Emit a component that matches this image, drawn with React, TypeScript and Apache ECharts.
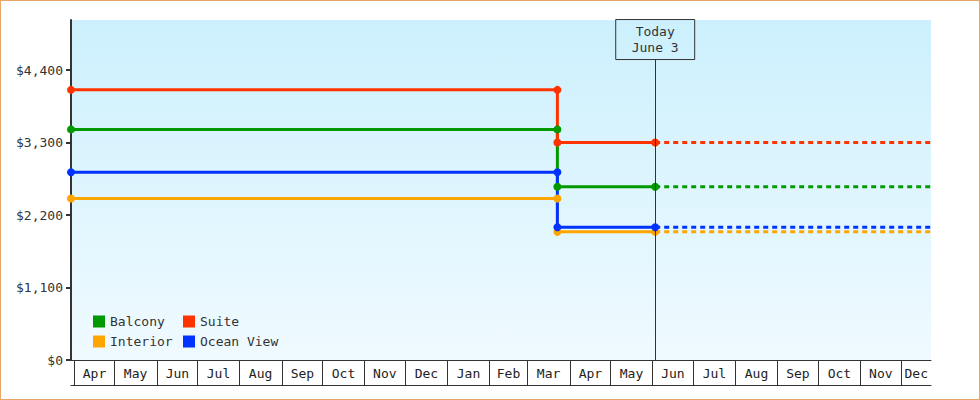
import { useEffect, useRef } from 'react';
import * as echarts from 'echarts';

// Fare history per cabin type
const cabinNames = ['Balcony', 'Suite', 'Interior', 'Ocean View'];
const cabinColors = ['#009900', '#ff3300', '#ffa500', '#0033ff'];
const priorFares = [3500, 4100, 2450, 2850];
const currentFares = [2630, 3300, 1945, 2015];

const startDate = '2024-03-30';
const dropDate = '2025-03-23';
const todayDate = '2025-06-03';
const endDate = '2025-12-23';
const todayLabel = ['Today', 'June 3'];

const monthLabels = [
  'Apr', 'May', 'Jun', 'Jul', 'Aug', 'Sep', 'Oct', 'Nov', 'Dec',
  'Jan', 'Feb', 'Mar', 'Apr', 'May', 'Jun', 'Jul', 'Aug', 'Sep', 'Oct', 'Nov', 'Dec',
];
const firstMonth = { year: 2024, month: 3 };

const yTicks = [0, 1100, 2200, 3300, 4400];
const yMax = 5160;

const FONT = '"DejaVu Sans Mono", monospace';
const ts = (d: string) => new Date(d + 'T00:00:00Z').getTime();

const FareChart = () => {
  const chartRef = useRef<HTMLDivElement>(null);

  useEffect(() => {
    if (!chartRef.current) return;
    const chart = echarts.init(chartRef.current, null, { renderer: 'svg' });

    const monthCells = monthLabels.map((_, i) => [
      Date.UTC(firstMonth.year, firstMonth.month + i, 1),
      Date.UTC(firstMonth.year, firstMonth.month + i + 1, 1),
      0,
    ]);

    const solidSeries = cabinNames.map((name, i) => ({
      name,
      type: 'line',
      z: 3,
      clip: false,
      symbol: 'circle',
      symbolSize: 8,
      showSymbol: true,
      color: cabinColors[i],
      lineStyle: { width: 3, color: cabinColors[i] },
      itemStyle: { color: cabinColors[i] },
      data: [
        [ts(startDate), priorFares[i]],
        [ts(dropDate), priorFares[i]],
        [ts(dropDate), currentFares[i]],
        [ts(todayDate), currentFares[i]],
      ],
    }));

    const dashedSeries = cabinNames.map((name, i) => ({
      name,
      type: 'line',
      z: 2,
      showSymbol: false,
      symbol: 'none',
      color: cabinColors[i],
      lineStyle: { width: 3, color: cabinColors[i], type: [5, 4] },
      data: [
        [ts(todayDate), currentFares[i]],
        [ts(endDate), currentFares[i]],
      ],
      markLine:
        i === 0
          ? {
              silent: true,
              symbol: ['none', 'none'],
              lineStyle: { color: '#333', width: 1, type: 'solid' },
              label: {
                show: true,
                position: 'end',
                distance: 0,
                formatter: todayLabel.join('\n'),
                fontFamily: FONT,
                fontSize: 13,
                lineHeight: 16,
                color: '#333',
                align: 'center',
                borderColor: '#333',
                borderWidth: 1,
                padding: [4, 16],
              },
              data: [[{ coord: [ts(todayDate), 0] }, { coord: [ts(todayDate), 4560] }]],
            }
          : undefined,
    }));

    const legendBase = {
      orient: 'vertical',
      top: 314,
      padding: 0,
      itemWidth: 12,
      itemHeight: 12,
      itemGap: 7,
      icon: 'rect',
      selectedMode: false,
      textStyle: { fontFamily: FONT, fontSize: 13, color: '#333' },
    };

    const option = {
      animation: false,
      backgroundColor: '#fff',
      grid: {
        left: 70,
        top: 19,
        right: 48,
        bottom: 39,
        show: true,
        borderWidth: 0,
        backgroundColor: new echarts.graphic.LinearGradient(0, 0, 0, 1, [
          { offset: 0, color: '#ccf0fd' },
          { offset: 1, color: '#f0faff' },
        ]),
      },
      legend: [
        { ...legendBase, left: 92, data: ['Balcony', 'Interior'] },
        { ...legendBase, left: 182, data: ['Suite', 'Ocean View'] },
      ],
      xAxis: [
        {
          type: 'time',
          min: ts(startDate),
          max: ts(endDate),
          axisLine: { show: true, lineStyle: { color: '#333', width: 1 } },
          axisTick: { show: false },
          axisLabel: { show: false },
          splitLine: { show: false },
        },
        {
          type: 'time',
          min: ts(startDate),
          max: ts(endDate),
          position: 'bottom',
          offset: 25,
          axisLine: { show: true, lineStyle: { color: '#333', width: 1 } },
          axisTick: { show: false },
          axisLabel: { show: false },
          splitLine: { show: false },
        },
      ],
      yAxis: {
        type: 'value',
        min: 0,
        max: yMax,
        axisLine: { show: true, lineStyle: { color: '#333', width: 2 } },
        axisTick: { show: true, length: 5, lineStyle: { color: '#333', width: 2 }, customValues: yTicks },
        axisLabel: {
          margin: 8,
          color: '#333',
          fontFamily: FONT,
          fontSize: 13,
          customValues: yTicks,
          formatter: (v: number) => '$' + v.toLocaleString('en-US'),
        },
        splitLine: { show: false },
      },
      series: [
        ...dashedSeries,
        ...solidSeries,
        {
          type: 'custom',
          name: 'months',
          silent: true,
          clip: false,
          encode: { x: [0, 1], y: 2 },
          data: monthCells,
          renderItem: (params: any, api: any) => {
            const cs = params.coordSys;
            const x0 = Math.round(api.coord([api.value(0), 0])[0]) + 0.5;
            const x1 = Math.min(api.coord([api.value(1), 0])[0], cs.x + cs.width);
            const y0 = cs.y + cs.height;
            return {
              type: 'group',
              children: [
                {
                  type: 'line',
                  shape: { x1: x0, y1: y0, x2: x0, y2: y0 + 25 },
                  style: { stroke: '#333', lineWidth: 1 },
                },
                {
                  type: 'text',
                  x: (x0 + x1) / 2,
                  y: y0 + 13,
                  style: {
                    text: monthLabels[params.dataIndex],
                    align: 'center',
                    verticalAlign: 'middle',
                    fontFamily: FONT,
                    fontSize: 13,
                    fill: '#222',
                  },
                },
              ],
            };
          },
        },
      ],
    };

    chart.setOption(option as any);

    return () => {
      chart.dispose();
    };
  }, []);

  return (
    <div
      ref={chartRef}
      style={{
        position: 'absolute',
        left: 0,
        top: 0,
        width: 980,
        height: 400,
        boxSizing: 'border-box',
        border: '1px solid #e9a765',
      }}
    />
  );
};

export default function App() {
  return <FareChart />;
}
